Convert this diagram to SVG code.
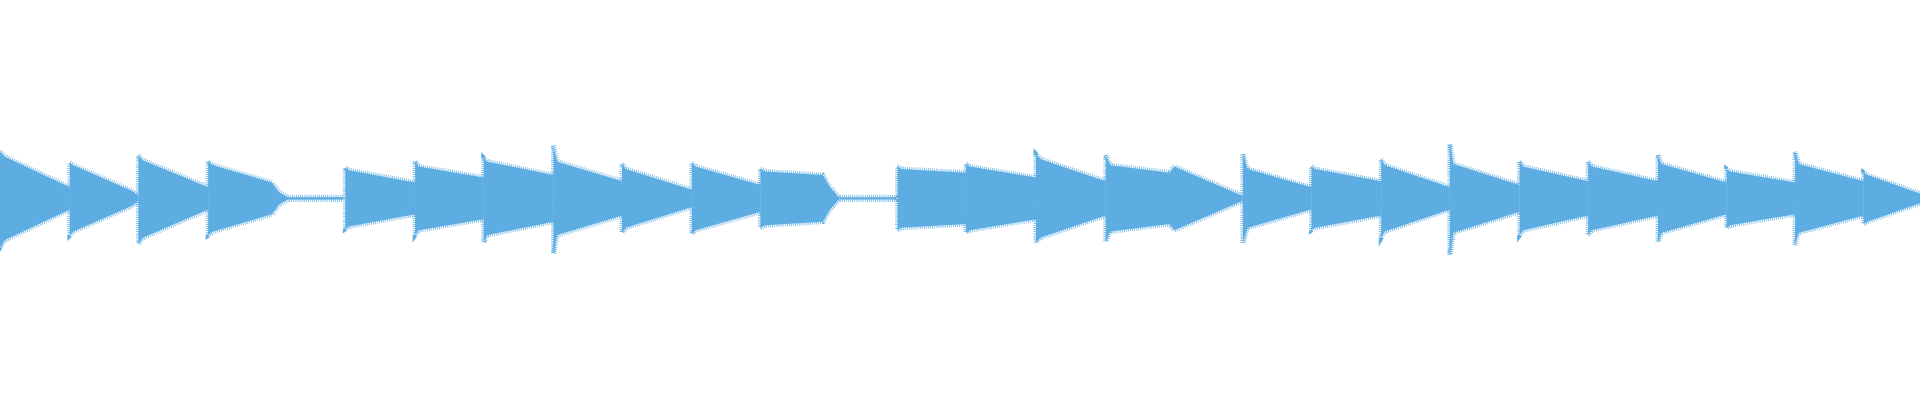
<svg xmlns="http://www.w3.org/2000/svg" width="1920" height="400" viewBox="0 0 1920 400">
<style>.w path{fill:#5dade2;stroke:#5dade2;stroke-width:4;stroke-dasharray:0.6 1.1}</style>
<rect width="1920" height="400" fill="#fff"/>
<g transform="scale(1.22449)" class="w">
<path d="M0,124 L4,128 L57,153 L57,171 L4,196 L0,202 Z"/>
<path d="M57,133 L60,135 L108,156 L113,160 L113,164 L108,168 L60,189 L57,192 Z"/>
<path d="M113,127 L117,131 L170,153 L170,171 L117,194 L113,199 Z"/>
<path d="M170,132 L174,135 L222,149 L228,157 L235,161 L280,161 L280,163 L235,163 L228,167 L222,175 L174,189 L170,192 Z"/>
<path d="M282,137 L285,139 L339,149 L339,175 L285,185 L282,187 Z"/>
<path d="M339,132 L342,136 L395,145 L395,179 L342,188 L339,192 Z"/>
<path d="M395,129 L398,132 L452,143 L452,181 L398,192 L395,198 Z"/>
<path d="M452,119 L455,132 L508,148 L508,176 L455,192 L452,207 Z"/>
<path d="M508,134 L511,138 L565,155 L565,169 L511,186 L508,190 Z"/>
<path d="M565,133 L568,136 L621,151 L621,173 L568,188 L565,191 Z"/>
<path d="M621,138 L625,140 L672,143 L678,153 L685,161 L732,161 L732,163 L685,163 L678,171 L672,181 L625,184 L621,186 Z"/>
<path d="M733,136 L736,138 L789,141 L789,183 L736,186 L733,188 Z"/>
<path d="M789,134 L792,136 L846,145 L846,179 L792,188 L789,190 Z"/>
<path d="M846,126 L850,130 L903,148 L903,176 L850,194 L846,198 Z"/>
<path d="M903,127 L907,135 L955,141 L959,136 L1015,160 L1015,164 L959,188 L955,183 L907,189 L903,197 Z"/>
<path d="M1015,126 L1019,138 L1071,153 L1071,171 L1019,186 L1015,198 Z"/>
<path d="M1071,136 L1074,138 L1128,148 L1128,176 L1074,186 L1071,188 Z"/>
<path d="M1128,130 L1131,135 L1184,153 L1184,171 L1131,189 L1128,194 Z"/>
<path d="M1184,118 L1187,134 L1241,151 L1241,173 L1187,190 L1184,208 Z"/>
<path d="M1241,132 L1244,136 L1297,148 L1297,176 L1244,188 L1241,192 Z"/>
<path d="M1297,132 L1300,136 L1354,148 L1354,176 L1300,188 L1297,192 Z"/>
<path d="M1354,127 L1357,134 L1410,149 L1410,175 L1357,190 L1354,197 Z"/>
<path d="M1410,138 L1413,140 L1466,149 L1466,175 L1413,184 L1410,186 Z"/>
<path d="M1466,124 L1469,134 L1522,148 L1522,176 L1469,190 L1466,200 Z"/>
<path d="M1522,141 L1525,143 L1568,158 L1568,166 L1525,181 L1522,183 Z"/>
</g>
</svg>
